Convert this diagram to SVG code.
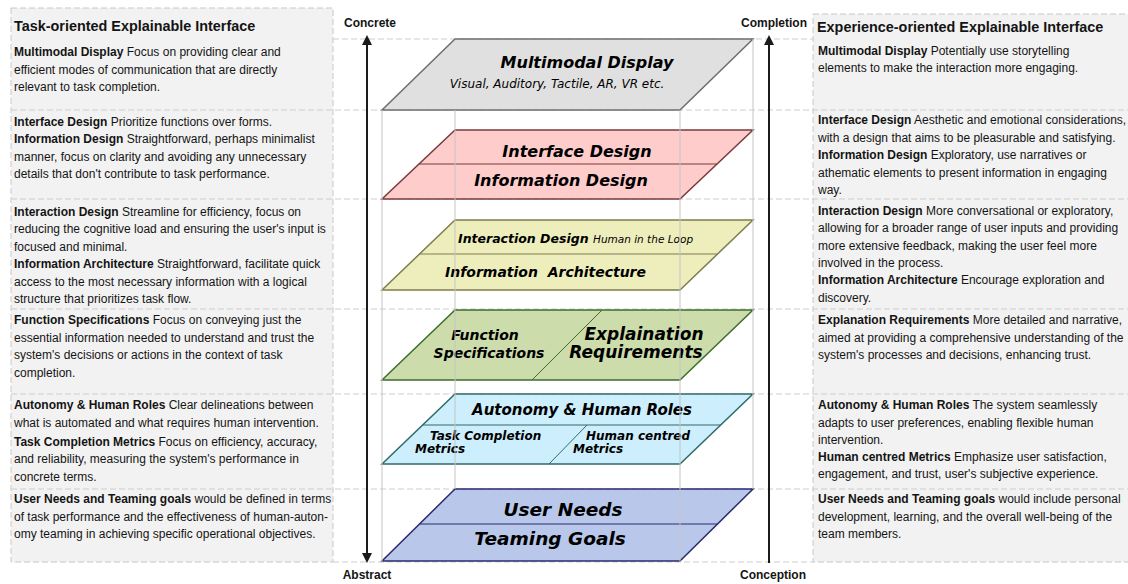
<svg xmlns="http://www.w3.org/2000/svg" width="1128" height="584" viewBox="0 0 1128 584">
<defs>
<style>
.panel{fill:#f2f2f2;stroke:#c8c8c8;stroke-width:1;stroke-dasharray:6 3}
.sep{stroke:#cdcdcd;stroke-width:1;stroke-dasharray:6 3;fill:none}
.desc{font-family:"Liberation Sans",Arial,sans-serif;font-size:12px;fill:#141414}
.b{font-weight:bold}
.title{font-family:"Liberation Sans",Arial,sans-serif;font-size:14.4px;font-weight:bold;fill:#141414}
.axis{font-family:"Liberation Sans",Arial,sans-serif;font-size:12px;font-weight:bold;fill:#141414;text-anchor:middle}
.lay{font-family:"DejaVu Sans","Liberation Sans",sans-serif;font-weight:bold;font-style:oblique;fill:#000}
.sub{font-family:"DejaVu Sans","Liberation Sans",sans-serif;font-style:oblique;fill:#000}
.mid{text-anchor:middle}
.frame{stroke:#c4c4c4;stroke-width:1}
.arrow{stroke:#1a1a1a;stroke-width:2;fill:none}
.l1{fill:#e0e0e0;stroke:#6e6e6e;stroke-width:1.5}
.l2{fill:#ffcccc;stroke:#7a3b3b;stroke-width:1.5}
.l3{fill:#eeeebd;stroke:#7d7d4e;stroke-width:1.5}
.l4{fill:#cddcab;stroke:#3d6e2e;stroke-width:1.5}
.l5{fill:#cdeefc;stroke:#2f6b69;stroke-width:1.5}
.l6{fill:#b9c8ea;stroke:#2a2a6e;stroke-width:1.5}
.d2{stroke:#7a3b3b;stroke-width:1}
.d3{stroke:#7d7d4e;stroke-width:1}
.d4{stroke:#3d6e2e;stroke-width:1}
.d5{stroke:#2f6b69;stroke-width:1}
.d6{stroke:#2a2a6e;stroke-width:1}
</style>
<marker id="ah" viewBox="0 0 10 10" refX="5" refY="5" markerWidth="10" markerHeight="10" markerUnits="userSpaceOnUse" orient="auto-start-reverse">
<path d="M0,0 L10,5 L0,10 z" fill="#1a1a1a"/>
</marker>
</defs>

<g id="panels">
<rect class="panel" x="11" y="8" width="322" height="554"/>
<rect class="panel" x="813" y="14" width="330" height="548"/>
</g>

<g id="separators">
<line class="sep" x1="333" y1="39" x2="813" y2="39"/>
<line class="sep" x1="11" y1="110" x2="1128" y2="110"/>
<line class="sep" x1="11" y1="199" x2="1128" y2="199"/>
<line class="sep" x1="11" y1="309" x2="1128" y2="309"/>
<line class="sep" x1="11" y1="394" x2="1128" y2="394"/>
<line class="sep" x1="11" y1="489" x2="1128" y2="489"/>
<line class="sep" x1="333" y1="562" x2="813" y2="562"/>
</g>

<g id="layer-multimodal">
<polygon class="l1" points="455,39 753,39 680,110 382,110"/>
<text class="lay mid" x="587" y="68" font-size="16">Multimodal Display</text>
<text class="sub mid" x="557" y="88" font-size="12">Visual, Auditory, Tactile, AR, VR etc.</text>
</g>

<g id="layer-interface">
<polygon class="l2" points="455,130 753,130 680,199 382,199"/>
<line class="d2" x1="419" y1="164" x2="717" y2="164"/>
<text class="lay mid" x="577" y="157" font-size="16">Interface Design</text>
<text class="lay mid" x="561" y="186" font-size="16">Information Design</text>
</g>

<g id="layer-interaction">
<polygon class="l3" points="455,220 753,220 680,290 382,290"/>
<line class="d3" x1="419.5" y1="254" x2="717.5" y2="254"/>
<text class="lay" x="458" y="243" font-size="12.5">Interaction Design</text>
<text class="sub" x="593" y="243" font-size="10.5">Human in the Loop</text>
<text class="lay" x="445" y="277" font-size="14">Information&#160; Architecture</text>
</g>

<g id="layer-function">
<polygon class="l4" points="455,310 753,310 680,380 382,380"/>
<line class="d4" x1="602" y1="310" x2="532" y2="380"/>
<text class="lay mid" x="485" y="340" font-size="14">Function</text>
<text class="lay mid" x="489" y="358" font-size="14">Specifications</text>
<text class="lay mid" x="644" y="340" font-size="17">Explaination</text>
<text class="lay mid" x="636" y="358" font-size="17">Requirements</text>
</g>

<g id="layer-autonomy">
<polygon class="l5" points="455,394 753,394 680,464 382,464"/>
<line class="d5" x1="422.7" y1="425" x2="720.7" y2="425"/>
<line class="d5" x1="587" y1="425" x2="549" y2="464"/>
<text class="lay mid" x="582" y="415" font-size="15">Autonomy &amp; Human Roles</text>
<text class="lay" x="430" y="439.5" font-size="12">Task Completion</text>
<text class="lay" x="415" y="453" font-size="12">Metrics</text>
<text class="lay" x="586" y="439.5" font-size="12">Human centred</text>
<text class="lay" x="573" y="453" font-size="12">Metrics</text>
</g>

<g id="layer-userneeds">
<polygon class="l6" points="455,489 753,489 680,561 382,561"/>
<line class="d6" x1="419.5" y1="524" x2="717.5" y2="524"/>
<text class="lay mid" x="563" y="515.5" font-size="18.5">User Needs</text>
<text class="lay mid" x="550" y="545" font-size="18.5">Teaming Goals</text>
</g>

<g id="frame">
<line class="frame" x1="382" y1="110" x2="382" y2="562"/>
<line class="frame" x1="455" y1="110" x2="455" y2="489"/>
<line class="frame" x1="680" y1="110" x2="680" y2="562"/>
<line class="frame" x1="753" y1="39" x2="753" y2="489"/>
</g>

<g id="connectors">
<line class="arrow" x1="367" y1="40" x2="367" y2="558" marker-start="url(#ah)" marker-end="url(#ah)"/>
<line class="arrow" x1="769" y1="563" x2="769" y2="40" marker-end="url(#ah)"/>
</g>

<g id="axis-labels">
<text class="axis" x="370" y="27">Concrete</text>
<text class="axis" x="774" y="27">Completion</text>
<text class="axis" x="367" y="579">Abstract</text>
<text class="axis" x="773" y="579">Conception</text>
</g>

<g id="task-oriented">
<text class="title" x="14" y="31">Task-oriented Explainable Interface</text>
<text class="desc" x="14" y="56"><tspan class="b">Multimodal Display</tspan> Focus on providing clear and</text>
<text class="desc" x="14" y="73.5">efficient modes of communication that are directly</text>
<text class="desc" x="14" y="91">relevant to task completion.</text>
<text class="desc" x="14" y="126"><tspan class="b">Interface Design</tspan> Prioritize functions over forms.</text>
<text class="desc" x="14" y="143.3"><tspan class="b">Information Design</tspan> Straightforward, perhaps minimalist</text>
<text class="desc" x="14" y="161">manner, focus on clarity and avoiding any unnecessary</text>
<text class="desc" x="14" y="178.3">details that don't contribute to task performance.</text>
<text class="desc" x="14" y="215.7"><tspan class="b">Interaction Design</tspan> Streamline for efficiency, focus on</text>
<text class="desc" x="14" y="233.3">reducing the cognitive load and ensuring the user's input is</text>
<text class="desc" x="14" y="250.7">focused and minimal.</text>
<text class="desc" x="14" y="268.3"><tspan class="b">Information Architecture</tspan> Straightforward, facilitate quick</text>
<text class="desc" x="14" y="285.7">access to the most necessary information with a logical</text>
<text class="desc" x="14" y="302.7">structure that prioritizes task flow.</text>
<text class="desc" x="14" y="324.3"><tspan class="b">Function Specifications</tspan> Focus on conveying just the</text>
<text class="desc" x="14" y="341.7">essential information needed to understand and trust the</text>
<text class="desc" x="14" y="359.3">system's decisions or actions in the context of task</text>
<text class="desc" x="14" y="376.7">completion.</text>
<text class="desc" x="14" y="409.3"><tspan class="b">Autonomy &amp; Human Roles</tspan> Clear delineations between</text>
<text class="desc" x="14" y="426.7">what is automated and what requires human intervention.</text>
<text class="desc" x="14" y="446"><tspan class="b">Task Completion Metrics</tspan> Focus on efficiency, accuracy,</text>
<text class="desc" x="14" y="463.3">and reliability, measuring the system's performance in</text>
<text class="desc" x="14" y="480.7">concrete terms.</text>
<text class="desc" x="14" y="503.3"><tspan class="b">User Needs and Teaming goals</tspan> would be defined in terms</text>
<text class="desc" x="14" y="520.7">of task performance and the effectiveness of human-auton-</text>
<text class="desc" x="14" y="538.3">omy teaming in achieving specific operational objectives.</text>
</g>

<g id="experience-oriented">
<text class="title" x="817" y="31.5">Experience-oriented Explainable Interface</text>
<text class="desc" x="818" y="54.5"><tspan class="b">Multimodal Display</tspan> Potentially use storytelling</text>
<text class="desc" x="818" y="72">elements to make the interaction more engaging.</text>
<text class="desc" x="818" y="124"><tspan class="b">Interface Design</tspan> Aesthetic and emotional considerations,</text>
<text class="desc" x="818" y="141.7">with a design that aims to be pleasurable and satisfying.</text>
<text class="desc" x="818" y="159"><tspan class="b">Information Design</tspan> Exploratory, use narratives or</text>
<text class="desc" x="818" y="176.7">athematic elements to present information in engaging</text>
<text class="desc" x="818" y="194.3">way.</text>
<text class="desc" x="818" y="215"><tspan class="b">Interaction Design</tspan> More conversational or exploratory,</text>
<text class="desc" x="818" y="232.3">allowing for a broader range of user inputs and providing</text>
<text class="desc" x="818" y="250">more extensive feedback, making the user feel more</text>
<text class="desc" x="818" y="267.3">involved in the process.</text>
<text class="desc" x="818" y="284.3"><tspan class="b">Information Architecture</tspan> Encourage exploration and</text>
<text class="desc" x="818" y="301.7">discovery.</text>
<text class="desc" x="818" y="324"><tspan class="b">Explanation Requirements</tspan> More detailed and narrative,</text>
<text class="desc" x="818" y="341.7">aimed at providing a comprehensive understanding of the</text>
<text class="desc" x="818" y="359">system's processes and decisions, enhancing trust.</text>
<text class="desc" x="818" y="409.3"><tspan class="b">Autonomy &amp; Human Roles</tspan> The system seamlessly</text>
<text class="desc" x="818" y="426.7">adapts to user preferences, enabling flexible human</text>
<text class="desc" x="818" y="444">intervention.</text>
<text class="desc" x="818" y="461"><tspan class="b">Human centred Metrics</tspan> Emphasize user satisfaction,</text>
<text class="desc" x="818" y="478.3">engagement, and trust, user's subjective experience.</text>
<text class="desc" x="818" y="503.3"><tspan class="b">User Needs and Teaming goals</tspan> would include personal</text>
<text class="desc" x="818" y="520.7">development, learning, and the overall well-being of the</text>
<text class="desc" x="818" y="538">team members.</text>
</g>
</svg>
